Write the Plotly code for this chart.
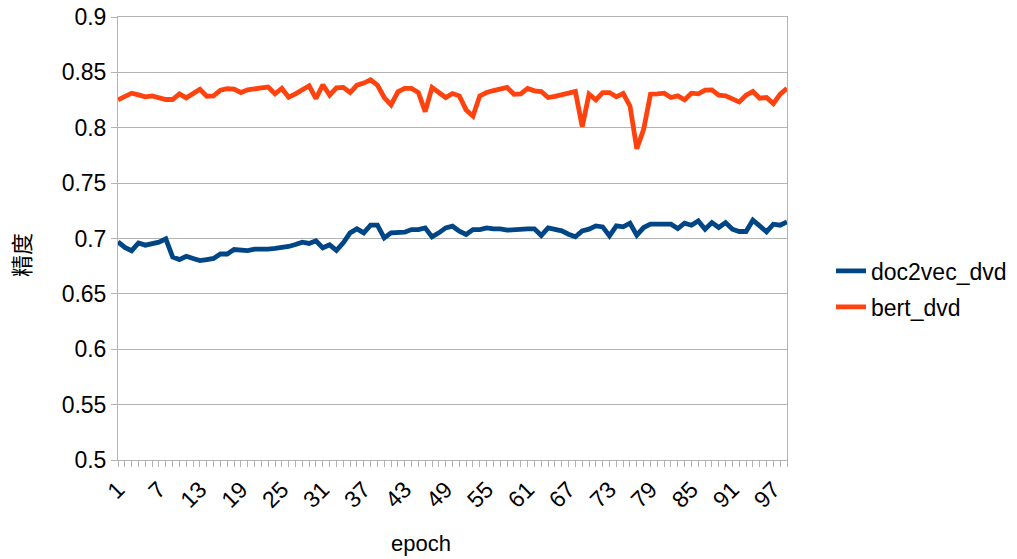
import plotly.graph_objects as go

epochs = list(range(1, 100))

doc2vec_dvd = [
    0.697, 0.692, 0.689, 0.696, 0.694, 0.6955, 0.6967, 0.6997, 0.6834, 0.681,
    0.684, 0.682, 0.680, 0.681, 0.682, 0.686, 0.686, 0.690, 0.690, 0.689,
    0.6904, 0.690, 0.6904, 0.691, 0.6916, 0.6928, 0.6946, 0.6967, 0.6955, 0.698,
    0.6916, 0.6943, 0.6892, 0.6961, 0.7051, 0.7087, 0.7051, 0.712, 0.712, 0.7006,
    0.7051, 0.7057, 0.7057, 0.7081, 0.7081, 0.7096, 0.7015, 0.7051, 0.7096, 0.7111,
    0.7066, 0.7036, 0.7081, 0.7081, 0.7096, 0.7087, 0.7087, 0.7075, 0.7081, 0.7081,
    0.7087, 0.7087, 0.7027, 0.7096, 0.7085, 0.7069, 0.7039, 0.7015, 0.7069, 0.7084,
    0.7114, 0.7105, 0.7024, 0.7114, 0.7105, 0.7138, 0.703, 0.7099, 0.7129, 0.7129,
    0.7129, 0.7129, 0.709, 0.7138, 0.712, 0.7159, 0.7084, 0.7144, 0.7099, 0.7144,
    0.7084, 0.7063, 0.7063, 0.7165, 0.7114, 0.706, 0.7129, 0.712, 0.715,
]

bert_dvd = [
    0.8252, 0.8279, 0.8312, 0.8297, 0.8279, 0.8288, 0.8273, 0.8255, 0.8255, 0.8306,
    0.827, 0.8306, 0.8348, 0.8285, 0.8288, 0.8339, 0.8352, 0.8348, 0.8318, 0.8342,
    0.8355, 0.836, 0.8367, 0.8306, 0.8355, 0.8276, 0.8306, 0.8339, 0.8379, 0.8264,
    0.8388, 0.8294, 0.836, 0.8364, 0.8318, 0.8385, 0.8403, 0.8433, 0.8385, 0.8273,
    0.8206, 0.8324, 0.8355, 0.8355, 0.8318, 0.8146, 0.8364, 0.8318, 0.8273, 0.8309,
    0.8288, 0.8161, 0.8106, 0.8288, 0.8318, 0.8336, 0.8355, 0.8364, 0.8303, 0.8306,
    0.8355, 0.8333, 0.8327, 0.8273, 0.8284, 0.8294, 0.8312, 0.8327, 0.801, 0.8303,
    0.8252, 0.8318, 0.8318, 0.8279, 0.8309, 0.8197, 0.781, 0.7985, 0.8303, 0.8306,
    0.8312, 0.8273, 0.8288, 0.8252, 0.8312, 0.8306, 0.8339, 0.8342, 0.8294, 0.8288,
    0.8264, 0.8233, 0.8294, 0.8327, 0.8267, 0.8273, 0.8218, 0.8303, 0.8355,
]

tick_labels = [str(e) if (e - 1) % 6 == 0 else "" for e in epochs]

FONT = "Liberation Sans, Arial, Noto Sans CJK SC, sans-serif"
GRID = "#b3b3b3"

fig = go.Figure()
fig.add_trace(go.Scatter(x=epochs, y=doc2vec_dvd, mode="lines", name="doc2vec_dvd",
                         line=dict(color="#004586", width=4.8), legendgroup="a"))
fig.add_trace(go.Scatter(x=epochs, y=bert_dvd, mode="lines", name="bert_dvd",
                         line=dict(color="#ff420e", width=4.8), legendgroup="b"))

fig.update_layout(
    width=1017, height=559,
    margin=dict(l=118, r=230, t=17, b=99, autoexpand=False),
    paper_bgcolor="white", plot_bgcolor="white",
    font=dict(family=FONT, size=23, color="black"),
    showlegend=True,
    legend=dict(x=(831 - 118) / 669, y=(460 - 289) / 443, xanchor="left", yanchor="middle",
                font=dict(size=23), tracegroupgap=3, traceorder="grouped",
                bgcolor="rgba(0,0,0,0)"),
    xaxis=dict(range=[1, 99], tickmode="array", tickvals=epochs, ticktext=tick_labels,
               tickangle=-45, ticks="outside", ticklen=6, tickcolor=GRID, tickwidth=1,
               showgrid=False, showline=True, linecolor=GRID, linewidth=1, mirror=True,
               zeroline=False, tickfont=dict(size=23), automargin=False,
               ticklabeloverflow="allow"),
    yaxis=dict(range=[0.5, 0.9], dtick=0.05, tick0=0.5, ticks="outside", ticklen=6,
               tickcolor=GRID, showgrid=True, gridcolor=GRID, gridwidth=1,
               showline=True, linecolor=GRID, linewidth=1, mirror=True,
               zeroline=False, tickfont=dict(size=23), automargin=False,
               ticklabeloverflow="allow"),
    annotations=[
        dict(text="epoch", xref="paper", yref="paper", x=(421 - 118) / 669,
             y=-(543 - 460) / 443, xanchor="center", yanchor="middle",
             showarrow=False, font=dict(size=22)),
        dict(text="精度", xref="paper", yref="paper", x=(22 - 118) / 669,
             y=(460 - 255) / 443, xanchor="center", yanchor="middle",
             textangle=-90, showarrow=False, font=dict(size=22)),
    ],
)

fig.write_html("out.html", config={"displayModeBar": False},
               post_script="document.body.style.margin='0';")
